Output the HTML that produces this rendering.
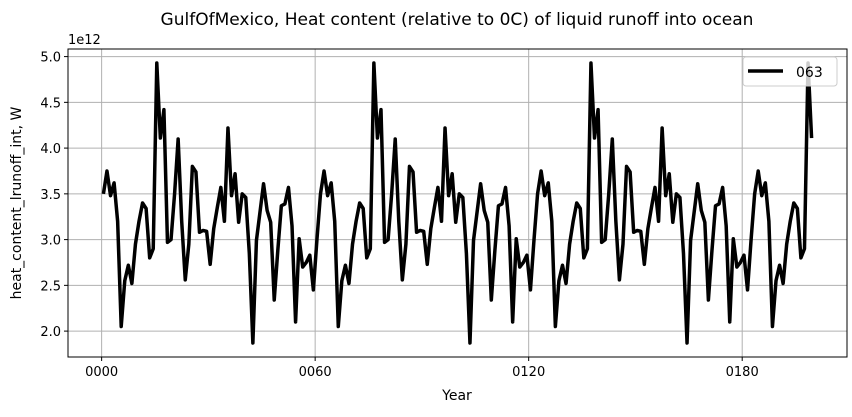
<!DOCTYPE html>
<html><head><meta charset="utf-8"><style>
body{margin:0;background:#fff;font-family:"Liberation Sans","DejaVu Sans",sans-serif}
svg text{font-family:"DejaVu Sans","Liberation Sans",sans-serif;fill:#000}
</style></head><body>
<svg id="chart" width="852" height="412" xmlns="http://www.w3.org/2000/svg">
<rect width="852" height="412" fill="#fff"/>
<text x="457" y="25" font-size="17" text-anchor="middle">GulfOfMexico, Heat content (relative to 0C) of liquid runoff into ocean</text>
<g id="grid"></g><g id="ticks"></g>
<text x="68" y="44" font-size="13">1e12</text>
<text x="457" y="400" font-size="14" text-anchor="middle">Year</text>
<text transform="translate(21,203) rotate(-90)" font-size="14" text-anchor="middle">heat_content_lrunoff_int, W</text>
<path id="series" fill="none" stroke="#000" stroke-width="3.5" stroke-linejoin="round"/>
<rect x="68" y="49" width="779" height="308" fill="none" stroke="#000" stroke-width="1"/>
<g>
<rect x="743" y="57" width="94" height="29" rx="3" fill="#fff" fill-opacity="0.8" stroke="#ccc"/>
<line x1="748" y1="71" x2="783" y2="71" stroke="#000" stroke-width="3.5"/>
<text x="796" y="77" font-size="14">063</text>
</g>
</svg>
<script>
const years=[];for(let i=0;i<200;i++)years.push(i+0.5);
const values=[3.50,3.75,3.48,3.62,3.20,2.05,2.55,2.72,2.52,2.95,3.20,3.40,3.34,2.80,2.90,4.93,4.11,4.42,2.97,3.00,3.50,4.10,3.20,2.56,2.95,3.80,3.74,3.08,3.10,3.09,2.73,3.12,3.35,3.57,3.20,4.22,3.48,3.72,3.19,3.50,3.46,2.85,1.87,2.99,3.30,3.61,3.32,3.19,2.34,2.88,3.37,3.39,3.57,3.15,2.10,3.01,2.70,2.75,2.83,2.45,3.00,
3.50,3.75,3.48,3.62,3.20,2.05,2.55,2.72,2.52,2.95,3.20,3.40,3.34,2.80,2.90,4.93,4.11,4.42,2.97,3.00,3.50,4.10,3.20,2.56,2.95,3.80,3.74,3.08,3.10,3.09,2.73,3.12,3.35,3.57,3.20,4.22,3.48,3.72,3.19,3.50,3.46,2.85,1.87,2.99,3.30,3.61,3.32,3.19,2.34,2.88,3.37,3.39,3.57,3.15,2.10,3.01,2.70,2.75,2.83,2.45,3.00,
3.50,3.75,3.48,3.62,3.20,2.05,2.55,2.72,2.52,2.95,3.20,3.40,3.34,2.80,2.90,4.93,4.11,4.42,2.97,3.00,3.50,4.10,3.20,2.56,2.95,3.80,3.74,3.08,3.10,3.09,2.73,3.12,3.35,3.57,3.20,4.22,3.48,3.72,3.19,3.50,3.46,2.85,1.87,2.99,3.30,3.61,3.32,3.19,2.34,2.88,3.37,3.39,3.57,3.15,2.10,3.01,2.70,2.75,2.83,2.45,3.00,
3.50,3.75,3.48,3.62,3.20,2.05,2.55,2.72,2.52,2.95,3.20,3.40,3.34,2.80,2.90,4.93,4.11];
const xTicks=[0,60,120,180];
const xTickLabels=["0000","0060","0120","0180"];
const yTicks=[2.0,2.5,3.0,3.5,4.0,4.5,5.0];
const yTickLabels=["2.0","2.5","3.0","3.5","4.0","4.5","5.0"];
const L=68,R=847,T=49,B=357;
const xmin0=Math.min(...years),xmax0=Math.max(...years),xm=(xmax0-xmin0)*0.05;
const ymin0=Math.min(...values),ymax0=Math.max(...values),ym=(ymax0-ymin0)*0.05;
const xs=v=>L+(v-(xmin0-xm))/((xmax0+xm)-(xmin0-xm))*(R-L);
const ys=v=>B-(v-(ymin0-ym))/((ymax0+ym)-(ymin0-ym))*(B-T);
const NS="http://www.w3.org/2000/svg";
const grid=document.getElementById('grid'),tk=document.getElementById('ticks');
function mk(tag,attrs,parent){const e=document.createElementNS(NS,tag);for(const k in attrs)e.setAttribute(k,attrs[k]);parent.appendChild(e);return e;}
xTicks.forEach((t,i)=>{const x=xs(t);
const g=mk('line',{x1:x,x2:x,y1:T,y2:B,stroke:'#b0b0b0','stroke-width':1},grid);


mk('line',{x1:x,x2:x,y1:B,y2:B+4,stroke:'#000'},tk);
const l=mk('text',{x:x,y:B+19,'font-size':13,'text-anchor':'middle'},tk);l.textContent=xTickLabels[i];

});
yTicks.forEach((t,i)=>{const y=ys(t);
const g=mk('line',{x1:L,x2:R,y1:y,y2:y,stroke:'#b0b0b0','stroke-width':1},grid);


mk('line',{x1:L-4,x2:L,y1:y,y2:y,stroke:'#000'},tk);
const l=mk('text',{x:L-7,y:y+5,'font-size':13,'text-anchor':'end'},tk);l.textContent=yTickLabels[i];

});
document.getElementById('series').setAttribute('d',values.map((v,i)=>(i?'L':'M')+xs(years[i]).toFixed(2)+' '+ys(v).toFixed(2)).join(' '));
</script>
</body></html>
